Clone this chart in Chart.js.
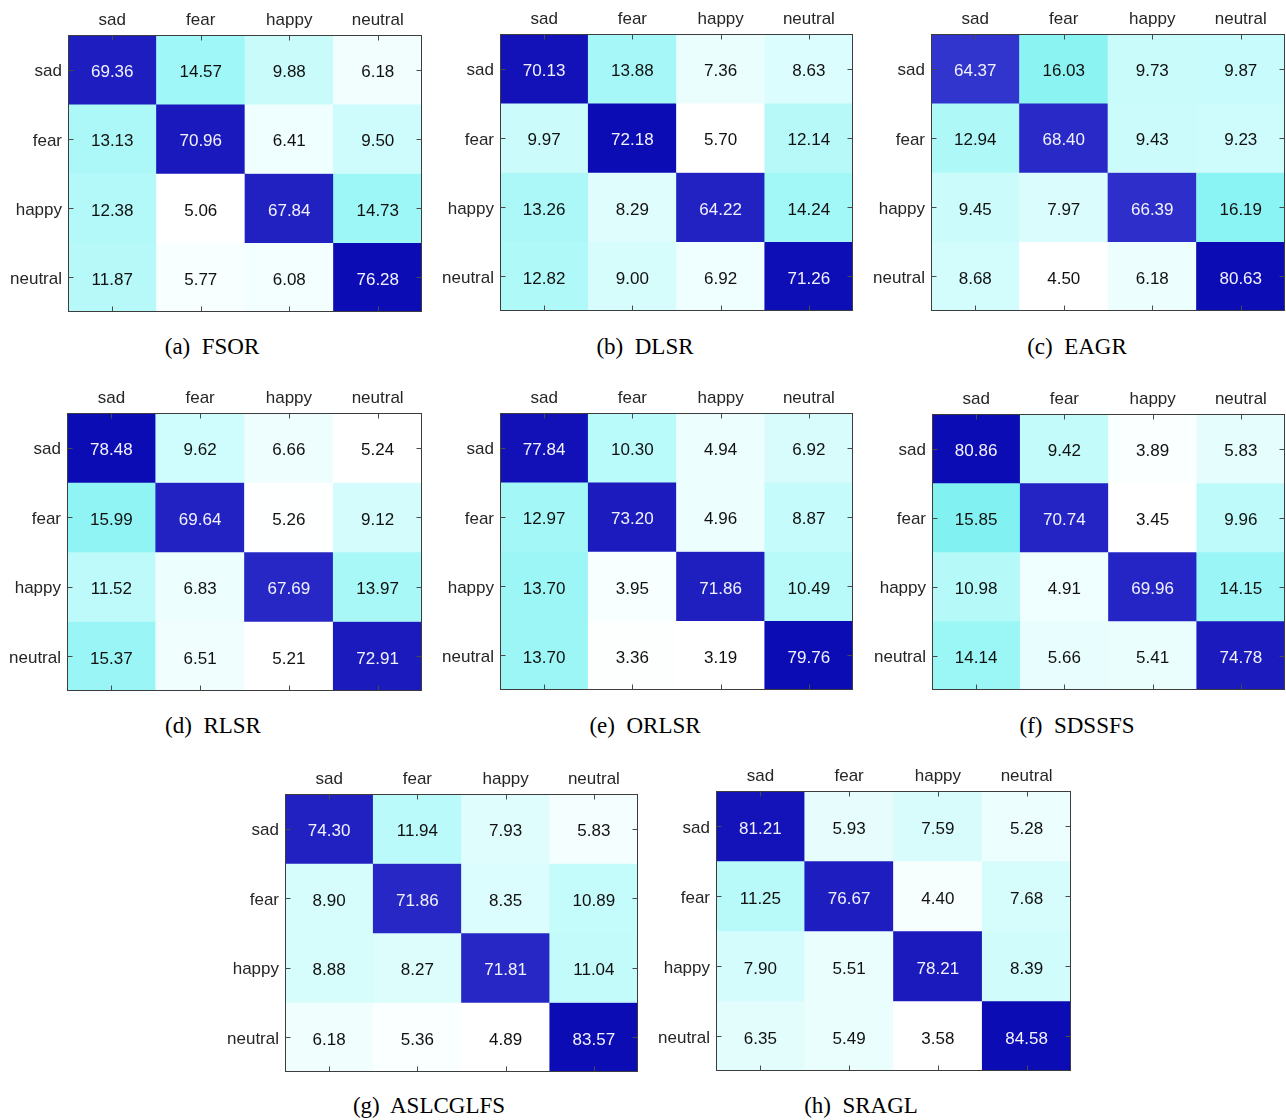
<!DOCTYPE html>
<html>
<head>
<meta charset="utf-8">
<script src="https://cdn.jsdelivr.net/npm/chart.js@4.4.1/dist/chart.umd.min.js"></script>
<style>
  html, body { margin: 0; padding: 0; background: #fff; }
  #fig { position: relative; width: 1286px; height: 1120px; overflow: hidden; background: #fff; }
  #fig canvas { position: absolute; }
  .cap {
    position: absolute;
    font-family: "Liberation Serif", "Times New Roman", serif;
    font-size: 23px;
    line-height: 23px;
    color: #000;
    white-space: pre;
    transform: translateX(-50%);
  }
</style>
</head>
<body>
<div id="fig"></div>
<script>
// Emotion classes (rows = true class, columns = predicted class)
const classes = ['sad', 'fear', 'happy', 'neutral'];

// Method names and subfigure tags
const methods = ['FSOR', 'DLSR', 'EAGR', 'RLSR', 'ORLSR', 'SDSSFS', 'ASLCGLFS', 'SRAGL'];
const tags = ['(a)', '(b)', '(c)', '(d)', '(e)', '(f)', '(g)', '(h)'];

// Confusion matrices (%), one per method
const fsor = [
  [69.36, 14.57, 9.88, 6.18],
  [13.13, 70.96, 6.41, 9.50],
  [12.38, 5.06, 67.84, 14.73],
  [11.87, 5.77, 6.08, 76.28]
];
const dlsr = [
  [70.13, 13.88, 7.36, 8.63],
  [9.97, 72.18, 5.70, 12.14],
  [13.26, 8.29, 64.22, 14.24],
  [12.82, 9.00, 6.92, 71.26]
];
const eagr = [
  [64.37, 16.03, 9.73, 9.87],
  [12.94, 68.40, 9.43, 9.23],
  [9.45, 7.97, 66.39, 16.19],
  [8.68, 4.50, 6.18, 80.63]
];
const rlsr = [
  [78.48, 9.62, 6.66, 5.24],
  [15.99, 69.64, 5.26, 9.12],
  [11.52, 6.83, 67.69, 13.97],
  [15.37, 6.51, 5.21, 72.91]
];
const orlsr = [
  [77.84, 10.30, 4.94, 6.92],
  [12.97, 73.20, 4.96, 8.87],
  [13.70, 3.95, 71.86, 10.49],
  [13.70, 3.36, 3.19, 79.76]
];
const sdssfs = [
  [80.86, 9.42, 3.89, 5.83],
  [15.85, 70.74, 3.45, 9.96],
  [10.98, 4.91, 69.96, 14.15],
  [14.14, 5.66, 5.41, 74.78]
];
const aslcglfs = [
  [74.30, 11.94, 7.93, 5.83],
  [8.90, 71.86, 8.35, 10.89],
  [8.88, 8.27, 71.81, 11.04],
  [6.18, 5.36, 4.89, 83.57]
];
const sragl = [
  [81.21, 5.93, 7.59, 5.28],
  [11.25, 76.67, 4.40, 7.68],
  [7.90, 5.51, 78.21, 8.39],
  [6.35, 5.49, 3.58, 84.58]
];
const matrices = [fsor, dlsr, eagr, rlsr, orlsr, sdssfs, aslcglfs, sragl];

// Page layout: plot rectangle [left, top, right, bottom] of each panel
const plotBoxes = [
  [68, 35, 422, 312],
  [500, 34, 853, 311],
  [931, 34, 1285, 311],
  [67, 413, 422, 691],
  [500, 413, 853, 690],
  [932, 414, 1285, 690],
  [285, 794, 638, 1072],
  [716, 791, 1071, 1071]
];
// Caption centre [x, y] of each panel
const captionPos = [
  [212, 347], [645, 347], [1077, 347],
  [213, 726], [645, 726], [1077, 726],
  [429, 1106], [861, 1106]
];

// White -> cyan -> deep blue colour map, per-panel min/max scaling
const cmapStops = [
  [0.000, 255, 255, 255],
  [0.020, 238, 254, 254],
  [0.070, 200, 251, 251],
  [0.135, 158, 247, 247],
  [0.165, 125, 240, 240],
  [0.500, 80, 140, 225],
  [0.800, 48, 48, 204],
  [1.000, 12, 12, 180]
];
function cmap(t) {
  t = Math.max(0, Math.min(1, t));
  for (let i = 1; i < cmapStops.length; i++) {
    const a = cmapStops[i - 1], b = cmapStops[i];
    if (t <= b[0]) {
      const f = (t - a[0]) / (b[0] - a[0]);
      const c = [1, 2, 3].map(k => Math.round(a[k] + (b[k] - a[k]) * f));
      return `rgb(${c[0]},${c[1]},${c[2]})`;
    }
  }
  return 'rgb(12,12,180)';
}

const FONT_SANS = '"Liberation Sans", Arial, Helvetica, sans-serif';
const AXIS_COLOR = '#262626';

// Cell values, box outline and inward tick marks
const cellPlugin = {
  id: 'cellDecor',
  afterDatasetsDraw(chart) {
    const { ctx, chartArea: a } = chart;
    const { lo, hi } = chart.options.plugins.cellDecor;
    ctx.save();
    ctx.font = '17px ' + FONT_SANS;
    ctx.textAlign = 'center';
    ctx.textBaseline = 'alphabetic';
    chart.data.datasets.forEach((ds, di) => {
      chart.getDatasetMeta(di).data.forEach((bar, ci) => {
        const v = ds.values[ci];
        const p = bar.getCenterPoint();
        const t = (v - lo) / (hi - lo);
        ctx.fillStyle = t > 0.5 ? '#f2f2ff' : '#111111';
        ctx.fillText(v.toFixed(2), p.x, p.y + 7.5);
      });
    });

    const L = Math.round(a.left) + 0.5, T = Math.round(a.top) + 0.5;
    const R = Math.round(a.right) - 0.5, B = Math.round(a.bottom) - 0.5;
    ctx.strokeStyle = '#3c3c3c';
    ctx.lineWidth = 1;
    ctx.strokeRect(L, T, R - L, B - T);

    const tick = 5;
    ctx.strokeStyle = '#4a4a4a';
    ctx.beginPath();
    const xs = chart.scales.x, ys = chart.scales.y;
    for (let i = 0; i < xs.ticks.length; i++) {
      const px = Math.round(xs.getPixelForTick(i)) + 0.5;
      ctx.moveTo(px, T); ctx.lineTo(px, T + tick);
      ctx.moveTo(px, B); ctx.lineTo(px, B - tick);
    }
    for (let i = 0; i < ys.ticks.length; i++) {
      const py = Math.round(ys.getPixelForTick(i)) + 0.5;
      ctx.moveTo(L, py); ctx.lineTo(L + tick, py);
      ctx.moveTo(R, py); ctx.lineTo(R - tick, py);
    }
    ctx.stroke();
    ctx.restore();
  }
};

const fig = document.getElementById('fig');

function buildPanel(k) {
  const m = matrices[k];
  const flat = m.flat();
  const lo = Math.min(...flat), hi = Math.max(...flat);
  const [L, T, R, B] = plotBoxes[k];
  const padL = 66, padT = 34;
  const padR = Math.min(2, 1286 - R), padB = 2;
  const w = (R - L) + padL + padR, h = (B - T) + padT + padB;

  const cv = document.createElement('canvas');
  cv.width = w; cv.height = h;
  cv.style.left = (L - padL) + 'px';
  cv.style.top = (T - padT) + 'px';
  cv.style.width = w + 'px';
  cv.style.height = h + 'px';
  fig.appendChild(cv);

  const datasets = m.map((row, r) => ({
    label: classes[r],
    data: row.map(() => [r, r + 1]),
    values: row,
    backgroundColor: row.map(v => cmap((v - lo) / (hi - lo))),
    borderWidth: 0,
    barPercentage: 1,
    categoryPercentage: 1,
    grouped: false
  }));

  new Chart(cv, {
    type: 'bar',
    data: { labels: classes, datasets },
    options: {
      responsive: false,
      animation: false,
      devicePixelRatio: 1,
      events: [],
      layout: { padding: { left: 0, top: 0, right: padR, bottom: padB } },
      plugins: {
        legend: { display: false },
        tooltip: { enabled: false },
        cellDecor: { lo, hi }
      },
      scales: {
        x: {
          type: 'category',
          position: 'top',
          offset: true,
          grid: { display: false, drawTicks: false },
          border: { display: false },
          ticks: {
            color: AXIS_COLOR,
            font: { family: FONT_SANS, size: 17 },
            padding: 4,
            maxRotation: 0,
            autoSkip: false
          },
          afterFit(s) { s.height = padT; s.paddingLeft = 0; s.paddingRight = 0; }
        },
        y: {
          type: 'linear',
          min: 0,
          max: 4,
          reverse: true,
          grid: { display: false, drawTicks: false },
          border: { display: false },
          afterBuildTicks(s) { s.ticks = classes.map((_, i) => ({ value: i + 0.5 })); },
          ticks: {
            color: AXIS_COLOR,
            font: { family: FONT_SANS, size: 17 },
            padding: 6,
            labelOffset: 2,
            autoSkip: false,
            callback: (v, i) => classes[i]
          },
          afterFit(s) { s.width = padL; s.paddingTop = 0; s.paddingBottom = 0; }
        }
      }
    },
    plugins: [cellPlugin]
  });

  const cap = document.createElement('div');
  cap.className = 'cap';
  cap.textContent = tags[k] + '  ' + methods[k];
  cap.style.left = captionPos[k][0] + 'px';
  cap.style.top = (captionPos[k][1] - 12) + 'px';
  fig.appendChild(cap);
}

for (let k = 0; k < matrices.length; k++) buildPanel(k);
</script>
</body>
</html>
